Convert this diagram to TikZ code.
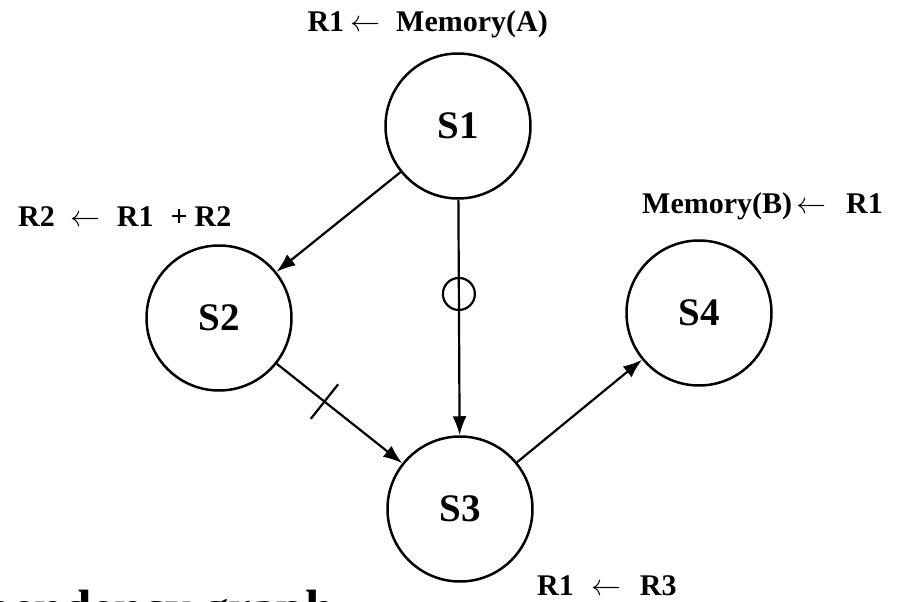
\RequirePackage{fix-cm}
\documentclass[tikz,border=0pt]{standalone}
\usepackage{fontspec}
\setmainfont{Liberation Serif}
\usetikzlibrary{calc,positioning,arrows.meta}

\newcommand\getsarrow{\makebox[30pt]{$\leftarrow$}}

\tikzset{
  stmt/.style={circle,draw,line width=2.5pt,inner sep=0pt,minimum size=145pt,
    font=\fontsize{39}{39}\selectfont\bfseries},
  oplabel/.style={inner sep=0pt,font=\fontsize{30}{30}\selectfont\bfseries},
  dep/.style={line width=2.2pt,-{Latex[length=19pt,width=14pt]}}
}

\begin{document}
\begin{tikzpicture}[x=1pt,y=-1pt]
  \useasboundingbox (0,0) rectangle (906,602);
  \clip (0,0) rectangle (906,602);
  % statements
  \node[stmt] (s1) at (458,126) {S1};
  \node[stmt] (s2) at (219,318) {S2};
  \node[stmt] (s3) at (460,509) {S3};
  \node[stmt] (s4) at (699,313) {S4};
  % what each one does
  \node[oplabel,anchor=base east] (l1) at (548,32) {R1\hspace{6pt}\getsarrow\hspace{16pt}Memory(A)};
  \node[oplabel,anchor=base west] (l2) at (18,226) {R2\hspace{16pt}\getsarrow\hspace{16pt}R1\hspace{17pt}+\hspace{7pt}R2};
  \node[oplabel,anchor=base west] (l4) at (642,213) {Memory(B)\hspace{4pt}\getsarrow\hspace{20pt}R1};
  \node[oplabel,anchor=base west] (l3) at (537,595) {R1\hspace{18pt}\getsarrow\hspace{18pt}R3};
  % dependences
  \draw[dep] (s1) -- (s2);
  \draw[dep] (s1) -- node[pos=0.40,circle,draw,line width=2.2pt,inner sep=0pt,minimum size=32pt] (anti) {} (s3);
  \draw[dep] (s2) -- coordinate[pos=0.38] (out) (s3);
  \draw[line width=2.2pt] ($(out)!22pt!90:(s3)$) -- ($(out)!22pt!-90:(s3)$);
  \draw[dep] (s3) -- (s4);
  % caption, cut by the page edge
  \node[anchor=base west,inner sep=0pt,font=\fontsize{51}{51}\selectfont\bfseries] (cap) at (-76,625) {Dependency graph};
\end{tikzpicture}
\end{document}
